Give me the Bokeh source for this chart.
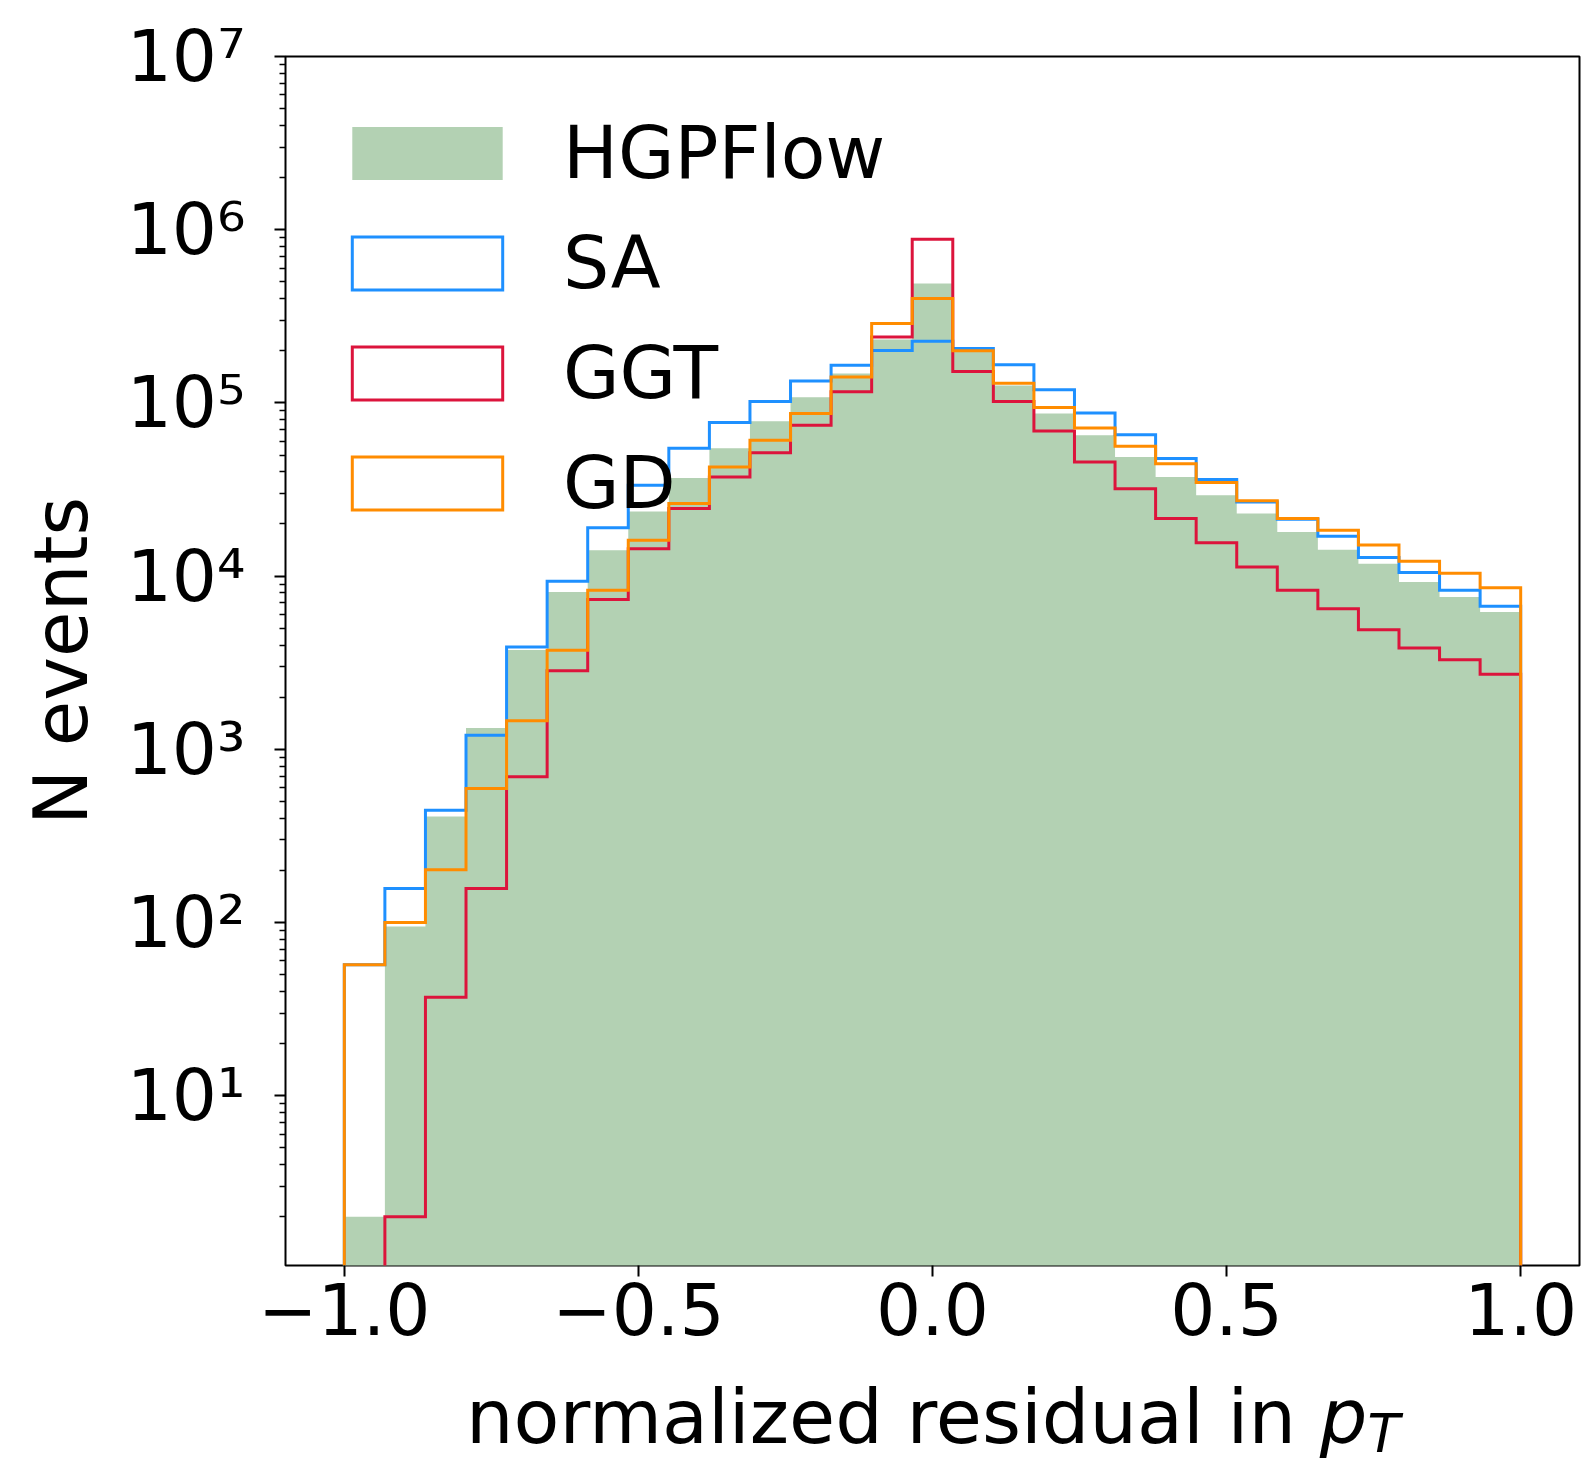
import numpy as np
from bokeh.plotting import figure
from bokeh.layouts import column
from bokeh.models import (Range1d, FixedTicker, CustomJSTickFormatter, Legend,
                          LegendItem, Div)
from bokeh.embed import file_html
from bokeh.resources import INLINE

# ---------------- data (29 bins between -1 and 1) ----------------
bin_lo, bin_hi, n_bins = -1.0, 1.0, 29
hgpflow = [2, 95, 410, 1330, 3750, 8100, 14100, 23600, 36900, 54700, 78300,
           108000, 148000, 232000, 489000, 208000, 126000, 86900, 65100, 48700,
           37400, 29300, 23000, 18000, 14200, 11800, 9250, 7570, 6210]
sa = [57, 157, 445, 1205, 3900, 9350, 19000, 33500, 54700, 77000, 102000,
      134000, 165000, 201000, 227000, 206000, 166000, 119000, 87500, 65600,
      47700, 36100, 26800, 21300, 17000, 12800, 10500, 8290, 6690]
ggt = [0, 2, 37, 157, 695, 2840, 7340, 14400, 24600, 37400, 51600, 74300,
       116000, 240000, 882000, 152000, 102000, 68900, 45600, 32000, 21500,
       15600, 11300, 8290, 6490, 4910, 3840, 3290, 2710]
gd = [57, 100, 202, 594, 1460, 3730, 8290, 16100, 26300, 42700, 60800, 86900,
      141000, 287000, 401000, 200000, 130000, 94000, 71700, 56200, 44600,
      34700, 27200, 21500, 18400, 15100, 12200, 10400, 8580]
series_names = ["HGPFlow", "SA", "GGT", "GD"]
y_tick_exponents = [1, 2, 3, 4, 5, 6, 7]
x_ticks = [-1.0, -0.5, 0.0, 0.5, 1.0]

edges = np.linspace(bin_lo, bin_hi, n_bins + 1)
FLOOR = 1e-3


def step_outline(counts):
    xs = [edges[0]]
    ys = [FLOOR]
    for i, c in enumerate(counts):
        v = c if c > 0 else FLOOR
        xs += [edges[i], edges[i + 1]]
        ys += [v, v]
    xs.append(edges[-1])
    ys.append(FLOOR)
    return xs, ys


FONT = "DejaVu Sans"
W, H_PLOT, H_LABEL = 1584, 1380, 84

p = figure(width=W, height=H_PLOT, y_axis_type="log",
           x_range=Range1d(-1.1, 1.1), y_range=Range1d(1.047, 1e7),
           output_backend="svg", toolbar_location=None,
           min_border_left=285, min_border_right=5,
           min_border_top=56, min_border_bottom=H_PLOT - 1265)
p.background_fill_color = "white"
p.border_fill_color = "white"
p.outline_line_color = "black"
p.outline_line_width = 2
p.grid.visible = False

# ---------------- histograms ----------------
hx, hy = step_outline(hgpflow)
r_h = p.patch(hx, hy, fill_color="#b3d1b3", fill_alpha=1.0, line_alpha=0)

renderers = [r_h]
for counts, col in [(sa, "#1E90FF"), (ggt, "#DC143C"), (gd, "#FF8C00")]:
    xs, ys = step_outline(counts)
    r = p.patch(xs, ys, fill_alpha=0, line_color=col, line_width=3,
                line_join="miter")
    renderers.append(r)

# ---------------- axes ----------------
xa = p.xaxis[0]
xa.ticker = FixedTicker(ticks=x_ticks)
xa.formatter = CustomJSTickFormatter(code="""
    const s = Math.abs(tick).toFixed(1);
    return (tick < 0 ? "\u2212" : "") + s;
""")
xa.major_label_text_font = FONT
xa.major_label_text_font_size = "71px"
xa.major_label_text_color = "black"
xa.major_label_standoff = 5
xa.major_tick_out = 11
xa.major_tick_in = 0
xa.major_tick_line_width = 2
xa.minor_tick_out = 0
xa.minor_tick_in = 0
xa.axis_line_color = None

ya = p.yaxis[0]
minor = [m * 10 ** k for k in range(0, 7) for m in range(2, 10)]
ya.ticker = FixedTicker(ticks=[10 ** e for e in y_tick_exponents],
                        minor_ticks=minor)
ya.formatter = CustomJSTickFormatter(code="""
    const sup = {"0":"\u2070","1":"\u00b9","2":"\u00b2","3":"\u00b3","4":"\u2074",
                 "5":"\u2075","6":"\u2076","7":"\u2077","8":"\u2078","9":"\u2079","-":"\u207b"};
    const e = Math.round(Math.log10(tick));
    return "10" + String(e).split("").map(c => sup[c]).join("");
""")
ya.major_label_text_font = FONT
ya.major_label_text_font_size = "71px"
ya.major_label_text_color = "black"
ya.major_label_standoff = 29
ya.major_tick_out = 11
ya.major_tick_in = 0
ya.major_tick_line_width = 2
ya.minor_tick_out = 6
ya.minor_tick_in = 0
ya.minor_tick_line_width = 1.5
ya.axis_line_color = None
ya.axis_label = "N events"
ya.axis_label_text_font = FONT
ya.axis_label_text_font_size = "74px"
ya.axis_label_text_font_style = "normal"
ya.axis_label_text_color = "black"
ya.axis_label_standoff = 20

# ---------------- legend ----------------
legend = Legend(items=[LegendItem(label=n, renderers=[r])
                       for n, r in zip(series_names, renderers)],
                location=(48, 740), orientation="vertical",
                glyph_width=188, glyph_height=66, label_standoff=42,
                spacing=25, padding=0, margin=0,
                label_text_font=FONT, label_text_font_size="73px",
                label_text_color="black",
                background_fill_alpha=0, border_line_alpha=0)
p.add_layout(legend)

# ---------------- x-axis title (normal text + italic p with subscript T) ----
xlabel = Div(
    text='normalized residual in <span style="font-style:italic">p</span>'
         '<span style="font-style:italic;font-size:53px;'
         'vertical-align:-9px">T</span>',
    width=W - 466, height=H_LABEL, margin=(0, 0, 0, 466),
    styles={"font-family": FONT, "font-size": "75px", "line-height": "1",
            "color": "black", "white-space": "nowrap", "overflow": "visible"})

layout = column(p, xlabel, spacing=0)
open("out.html", "w").write(file_html(layout, INLINE))
